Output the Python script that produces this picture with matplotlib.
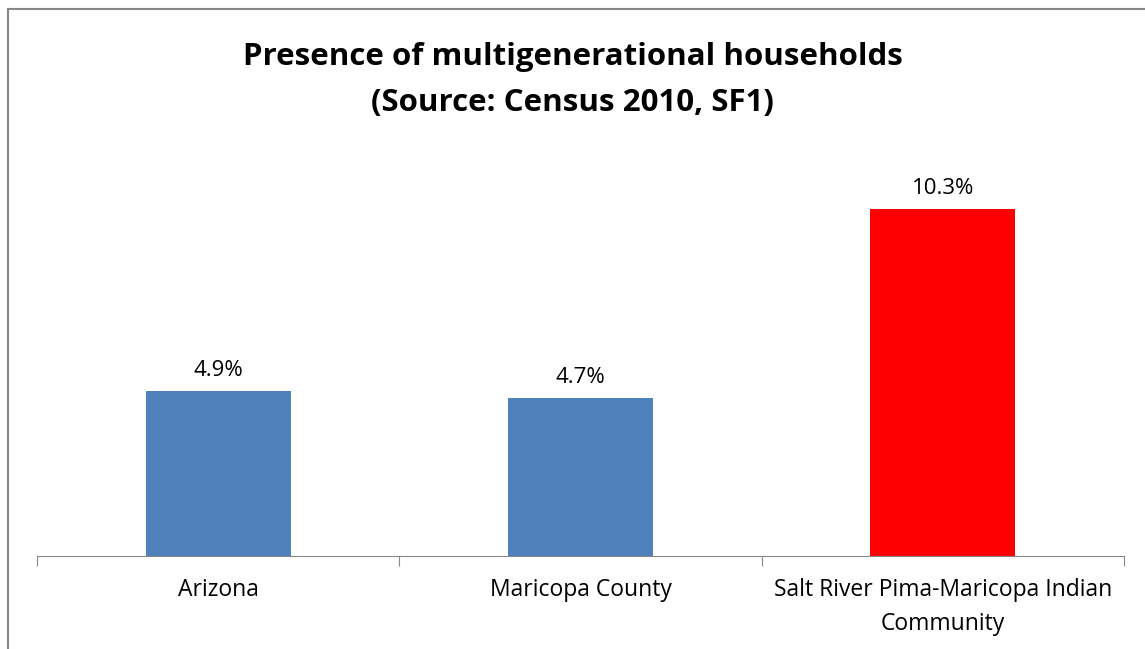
import matplotlib.pyplot as plt
from matplotlib.patches import Rectangle

plt.rcParams['font.family'] = ['Open Sans', 'DejaVu Sans']

categories = ['Arizona', 'Maricopa County', 'Salt River Pima-Maricopa Indian\nCommunity']
values = [4.9, 4.7, 10.3]
labels = ['4.9%', '4.7%', '10.3%']
colors = ['#4F81BD', '#4F81BD', '#FF0000']

fig = plt.figure(figsize=(11.45, 6.49), dpi=100)
W, H = 1145, 649

# axes placed in pixel terms: x 37..1124, baseline y 556, top y 152
ax = fig.add_axes([37 / W, 1 - 556 / H, (1124 - 37) / W, (556 - 152) / H])
x = range(len(categories))
bars = ax.bar(x, values, width=0.4, color=colors)
ax.set_xlim(-0.5, 2.5)
ax.set_ylim(0, 12)

for xi, v, lab in zip(x, values, labels):
    ax.text(xi, v + 0.3, lab, ha='center', va='bottom', fontsize=16)

for s in ['top', 'right', 'left']:
    ax.spines[s].set_visible(False)
ax.spines['bottom'].set_color('#888888')
ax.set_yticks([])
ax.set_xticks([-0.5, 0.5, 1.5, 2.5])
ax.set_xticklabels([])
ax.tick_params(axis='x', length=7, color='#888888', direction='out')
for xi, c in zip(x, categories):
    ax.text(xi, -0.65, c, ha='center', va='top', fontsize=16.5, linespacing=1.55)

fig.text(0.5, 1 - 57 / H, 'Presence of multigenerational households', ha='center', va='center',
         fontsize=22.5, fontweight='bold')
fig.text(0.5, 1 - 103 / H, '(Source: Census 2010, SF1)', ha='center', va='center',
         fontsize=22.5, fontweight='bold')

# chart border (right and bottom sides fall outside the image)
fig.patches.append(Rectangle((7.5 / W, -0.05), 1.1, 1 - 8.5 / H + 0.05, transform=fig.transFigure,
                             fill=False, edgecolor='#888888', linewidth=1.5))

fig.savefig('out.png', dpi=100)
